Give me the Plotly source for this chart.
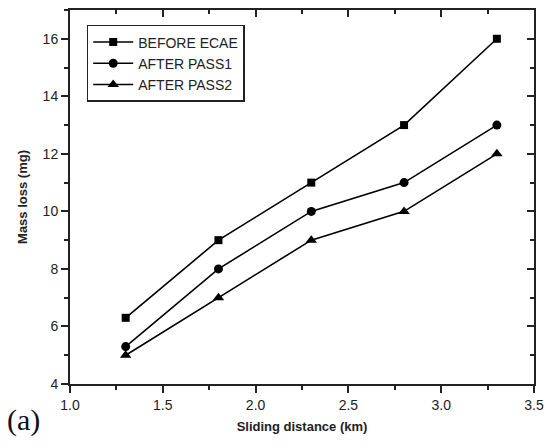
import plotly.graph_objects as go

distance = [1.3, 1.8, 2.3, 2.8, 3.3]
before_ecae = [6.3, 9.0, 11.0, 13.0, 16.0]
after_pass1 = [5.3, 8.0, 10.0, 11.0, 13.0]
after_pass2 = [5.0, 7.0, 9.0, 10.0, 12.0]
series_names = ["BEFORE ECAE", "AFTER PASS1", "AFTER PASS2"]
symbols = ["square", "circle", "triangle-up"]
sizes = [8, 9, 10]

fig = go.Figure()
for name, ys, sym, sz in zip(series_names, [before_ecae, after_pass1, after_pass2], symbols, sizes):
    fig.add_trace(go.Scatter(x=distance, y=ys, mode="lines+markers", name=name,
                             line=dict(color="black", width=1.6),
                             marker=dict(symbol=sym, size=sz, color="black")))

# invisible trace for top/right tick axes
fig.add_trace(go.Scatter(x=[1.0], y=[4], xaxis="x2", yaxis="y2", mode="markers",
                         marker=dict(opacity=0), showlegend=False, hoverinfo="skip"))

axfont = dict(family="Liberation Sans, Arial, sans-serif", size=14, color="#222")
fig.update_layout(
    width=552, height=445,
    margin=dict(l=70, r=13, t=8, b=61),
    paper_bgcolor="white", plot_bgcolor="white",
    font=axfont,
    xaxis=dict(range=[1.0, 3.5], dtick=0.5, tickformat=".1f", showgrid=False, zeroline=False,
               showline=True, linecolor="#222", linewidth=2, ticks="outside", ticklen=7,
               tickwidth=2, tickcolor="#222", mirror=True,
               minor=dict(ticks="outside", ticklen=4, tickwidth=2, tickcolor="#222", dtick=0.25, showgrid=False),
               title=dict(text="<b>Sliding distance (km)</b>", font=dict(size=13, color="#222"), standoff=10)),
    yaxis=dict(range=[4, 17], dtick=2, showgrid=False, zeroline=False,
               showline=True, linecolor="#222", linewidth=2, ticks="outside", ticklen=7,
               tickwidth=2, tickcolor="#222", mirror=True,
               minor=dict(ticks="outside", ticklen=4, tickwidth=2, tickcolor="#222", dtick=1, showgrid=False),
               title=dict(text="<b>Mass loss (mg)</b>", font=dict(size=13, color="#222"), standoff=12)),
    xaxis2=dict(range=[1.0, 3.5], dtick=0.5, overlaying="x", side="top", anchor="y",
                showgrid=False, zeroline=False, showticklabels=False, ticks="inside", ticklen=7,
                tickwidth=2, tickcolor="#222",
                minor=dict(ticks="inside", ticklen=4, tickwidth=2, tickcolor="#222", dtick=0.25)),
    yaxis2=dict(range=[4, 17], dtick=2, overlaying="y", side="right", anchor="x",
                showgrid=False, zeroline=False, showticklabels=False, ticks="inside", ticklen=7,
                tickwidth=2, tickcolor="#222",
                minor=dict(ticks="inside", ticklen=4, tickwidth=2, tickcolor="#222", dtick=1)),
    legend=dict(x=0.036, y=0.96, xanchor="left", yanchor="top",
                bgcolor="white", bordercolor="#222", borderwidth=1.5,
                font=dict(size=14, color="#222"), itemwidth=40),
)
fig.add_annotation(text="(a)", xref="paper", yref="paper", x=-0.141, y=-0.096,
                   xanchor="left", yanchor="middle", showarrow=False,
                   font=dict(family="Liberation Serif, Times New Roman, serif", size=30, color="#111"))

fig.write_html("out.html")
